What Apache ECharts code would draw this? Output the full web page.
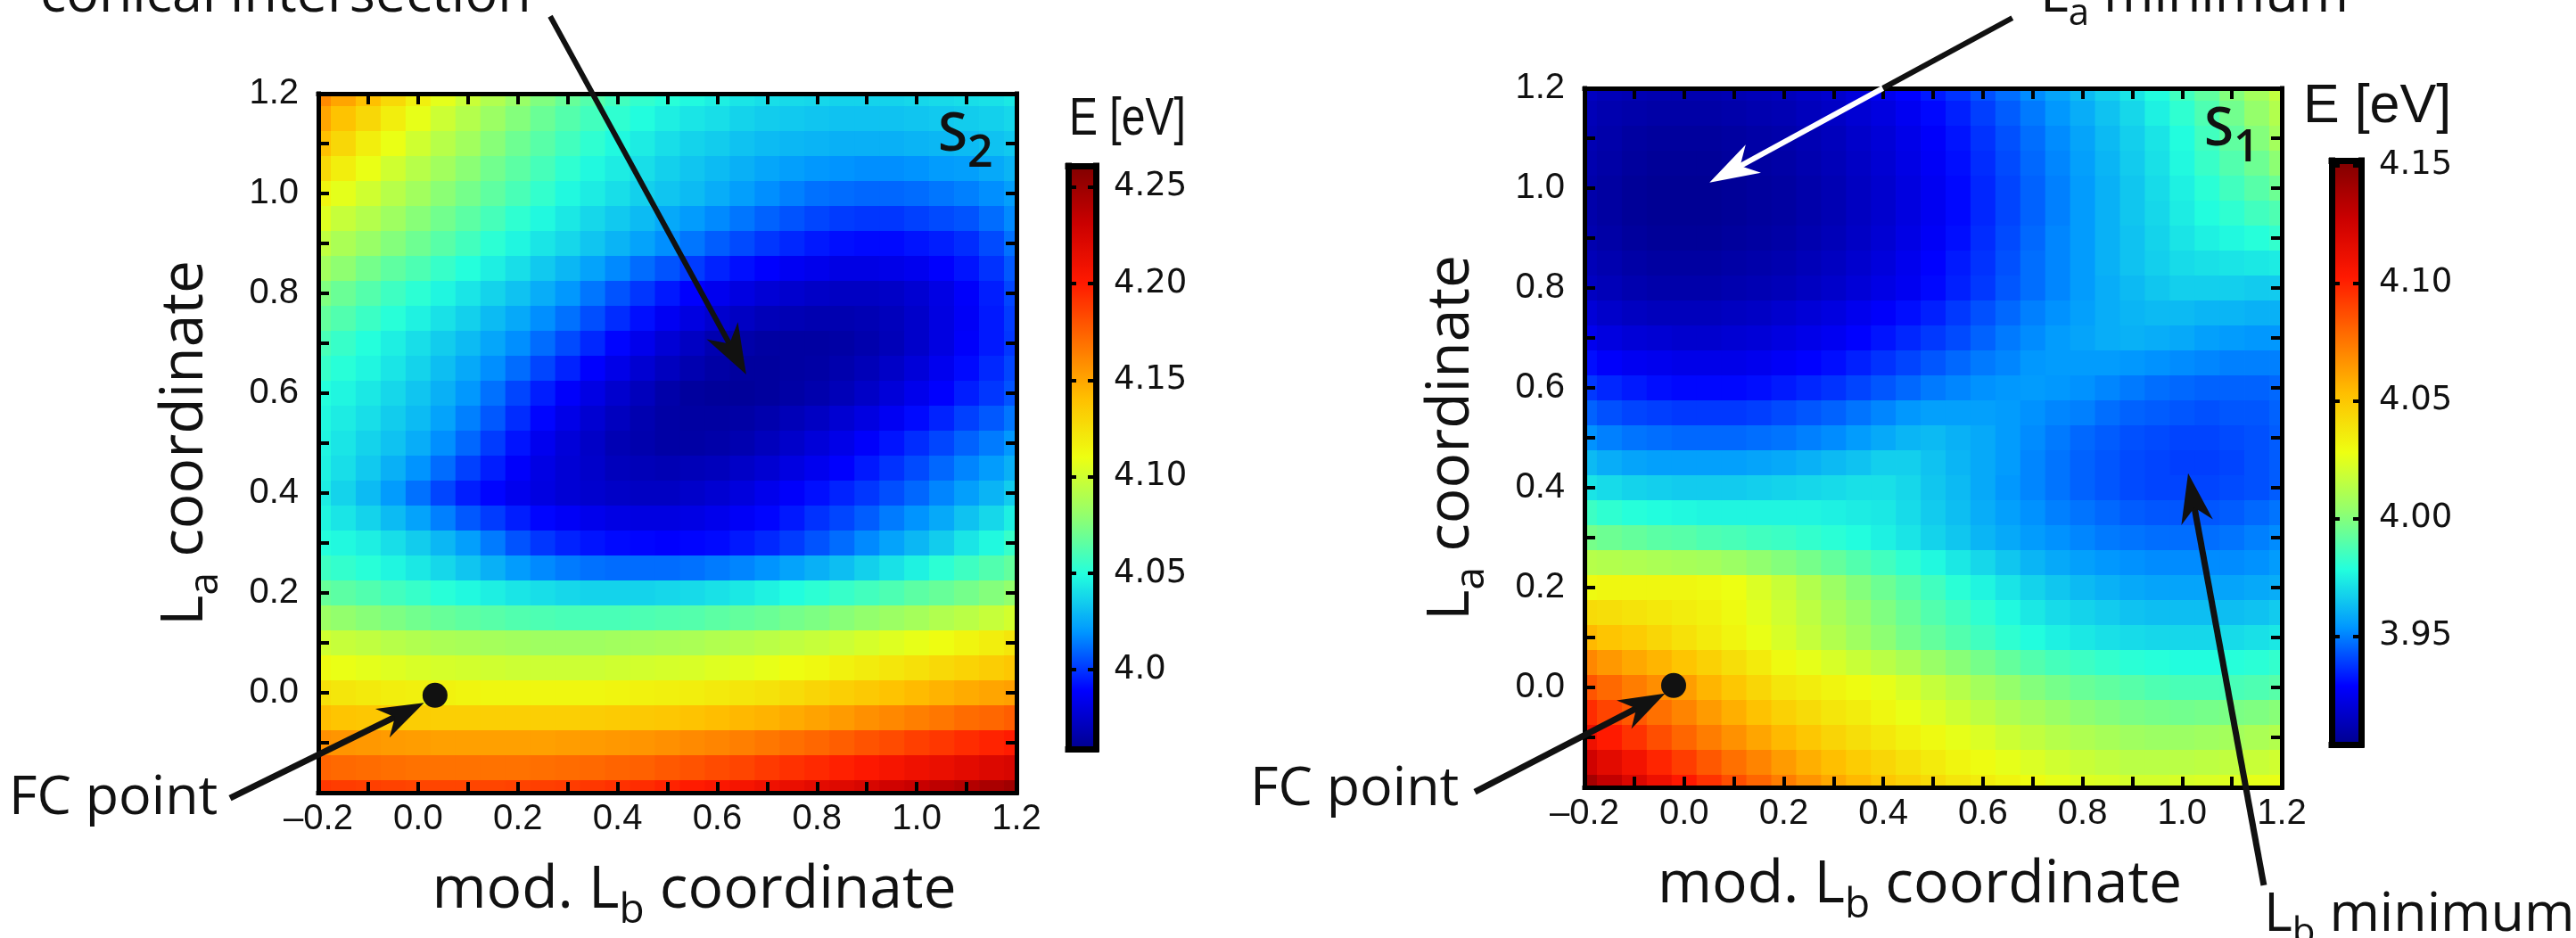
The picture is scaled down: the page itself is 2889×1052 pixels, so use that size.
<!DOCTYPE html>
<html><head><meta charset="utf-8">
<script src="https://cdn.jsdelivr.net/npm/echarts@6/dist/echarts.min.js"></script>
<style>html,body{margin:0;padding:0;background:#fff}#c{width:2889px;height:1052px}</style>
</head><body><div id="c"></div>
<script>
// ---------- data ----------
const xs = [-0.2,-0.15,-0.1,-0.05,0,0.05,0.1,0.15,0.2,0.25,0.3,0.35,0.4,0.45,0.5,0.55,0.6,0.65,0.7,0.75,0.8,0.85,0.9,0.95,1.0,1.05,1.1,1.15,1.2];
const ys = [1.2,1.15,1.1,1.05,1.0,0.95,0.9,0.85,0.8,0.75,0.7,0.65,0.6,0.55,0.5,0.45,0.4,0.35,0.3,0.25,0.2,0.15,0.1,0.05,0,-0.05,-0.1,-0.15,-0.2];

// S2 energies [eV], rows follow ys (top to bottom), columns follow xs
const s2Energy = [
[4.160,4.150,4.140,4.128,4.117,4.107,4.098,4.090,4.082,4.075,4.068,4.063,4.058,4.054,4.051,4.048,4.045,4.042,4.040,4.039,4.038,4.037,4.037,4.037,4.038,4.039,4.040,4.041,4.043],
[4.150,4.139,4.129,4.118,4.108,4.099,4.091,4.083,4.076,4.069,4.063,4.058,4.053,4.049,4.045,4.042,4.040,4.037,4.035,4.034,4.033,4.032,4.032,4.032,4.033,4.034,4.035,4.036,4.038],
[4.140,4.129,4.118,4.109,4.100,4.092,4.085,4.077,4.070,4.064,4.058,4.053,4.048,4.044,4.040,4.037,4.035,4.032,4.030,4.029,4.028,4.027,4.027,4.027,4.028,4.029,4.030,4.032,4.034],
[4.128,4.118,4.109,4.100,4.092,4.085,4.078,4.071,4.065,4.059,4.053,4.048,4.044,4.040,4.036,4.033,4.030,4.027,4.024,4.022,4.020,4.019,4.018,4.018,4.019,4.021,4.022,4.025,4.028],
[4.115,4.107,4.100,4.092,4.085,4.078,4.072,4.066,4.060,4.054,4.048,4.044,4.040,4.036,4.033,4.030,4.026,4.022,4.018,4.015,4.012,4.011,4.010,4.010,4.011,4.013,4.015,4.018,4.022],
[4.105,4.097,4.091,4.084,4.077,4.071,4.065,4.059,4.053,4.048,4.043,4.038,4.034,4.030,4.025,4.021,4.017,4.013,4.009,4.006,4.003,4.001,4.000,4.000,4.002,4.004,4.006,4.011,4.017],
[4.095,4.088,4.082,4.076,4.070,4.064,4.058,4.052,4.047,4.042,4.038,4.033,4.028,4.023,4.018,4.013,4.008,4.004,4.000,3.997,3.994,3.992,3.991,3.991,3.993,3.995,3.998,4.004,4.012],
[4.085,4.079,4.072,4.066,4.061,4.055,4.050,4.045,4.040,4.034,4.029,4.023,4.017,4.011,4.006,4.001,3.996,3.992,3.989,3.986,3.984,3.982,3.982,3.983,3.985,3.989,3.993,3.999,4.007],
[4.075,4.069,4.063,4.057,4.052,4.047,4.042,4.037,4.032,4.026,4.020,4.013,4.006,4.000,3.994,3.989,3.985,3.981,3.978,3.976,3.974,3.973,3.973,3.974,3.977,3.982,3.988,3.995,4.003],
[4.067,4.062,4.056,4.051,4.046,4.041,4.036,4.030,4.025,4.018,4.012,4.005,3.998,3.992,3.986,3.981,3.976,3.973,3.970,3.969,3.968,3.968,3.969,3.971,3.975,3.981,3.987,3.994,4.001],
[4.060,4.055,4.050,4.045,4.040,4.035,4.030,4.024,4.018,4.011,4.004,3.997,3.990,3.984,3.978,3.973,3.968,3.966,3.964,3.964,3.964,3.965,3.967,3.970,3.975,3.981,3.988,3.994,4.000],
[4.055,4.051,4.047,4.042,4.037,4.031,4.025,4.018,4.011,4.003,3.996,3.989,3.983,3.977,3.972,3.968,3.965,3.963,3.963,3.964,3.965,3.967,3.970,3.974,3.979,3.985,3.991,3.997,4.003],
[4.050,4.047,4.043,4.038,4.033,4.027,4.020,4.012,4.003,3.995,3.988,3.982,3.976,3.971,3.966,3.963,3.962,3.962,3.963,3.965,3.967,3.970,3.974,3.979,3.984,3.989,3.995,4.000,4.006],
[4.048,4.044,4.040,4.035,4.030,4.023,4.015,4.007,3.998,3.990,3.983,3.977,3.972,3.968,3.965,3.964,3.964,3.965,3.967,3.970,3.973,3.977,3.981,3.986,3.991,3.996,4.002,4.007,4.013],
[4.047,4.042,4.037,4.032,4.026,4.018,4.010,4.001,3.993,3.985,3.979,3.974,3.969,3.967,3.965,3.965,3.966,3.968,3.971,3.975,3.979,3.983,3.988,3.993,3.998,4.003,4.009,4.014,4.020],
[4.046,4.040,4.034,4.027,4.019,4.011,4.002,3.995,3.988,3.982,3.978,3.975,3.971,3.970,3.969,3.970,3.971,3.974,3.977,3.981,3.985,3.989,3.994,3.999,4.004,4.010,4.016,4.021,4.027],
[4.044,4.037,4.030,4.021,4.012,4.003,3.995,3.990,3.985,3.981,3.978,3.976,3.974,3.973,3.973,3.975,3.977,3.980,3.984,3.988,3.992,3.996,4.000,4.005,4.010,4.016,4.022,4.028,4.035],
[4.047,4.042,4.037,4.030,4.023,4.015,4.007,4.001,3.995,3.990,3.987,3.984,3.982,3.981,3.981,3.982,3.984,3.987,3.990,3.994,3.999,4.003,4.008,4.014,4.019,4.025,4.032,4.038,4.045],
[4.050,4.048,4.045,4.040,4.035,4.029,4.022,4.014,4.006,4.000,3.996,3.993,3.991,3.990,3.989,3.990,3.991,3.994,3.997,4.001,4.006,4.011,4.017,4.023,4.029,4.035,4.042,4.048,4.055],
[4.057,4.054,4.051,4.047,4.043,4.038,4.033,4.027,4.021,4.017,4.014,4.012,4.011,4.011,4.011,4.012,4.014,4.016,4.019,4.023,4.027,4.031,4.036,4.041,4.046,4.052,4.057,4.062,4.067],
[4.068,4.065,4.062,4.058,4.055,4.051,4.048,4.045,4.042,4.040,4.038,4.037,4.037,4.037,4.038,4.039,4.041,4.043,4.046,4.049,4.052,4.055,4.058,4.061,4.065,4.068,4.072,4.076,4.080],
[4.083,4.080,4.077,4.074,4.071,4.068,4.066,4.064,4.062,4.061,4.060,4.060,4.060,4.061,4.062,4.063,4.065,4.067,4.069,4.072,4.074,4.077,4.080,4.083,4.086,4.090,4.093,4.097,4.101],
[4.100,4.097,4.095,4.092,4.090,4.088,4.087,4.086,4.085,4.084,4.084,4.084,4.085,4.086,4.087,4.088,4.090,4.091,4.093,4.095,4.097,4.099,4.102,4.105,4.108,4.111,4.115,4.118,4.122],
[4.112,4.109,4.107,4.105,4.103,4.102,4.101,4.100,4.099,4.099,4.099,4.099,4.100,4.101,4.102,4.103,4.105,4.106,4.108,4.111,4.113,4.116,4.119,4.122,4.125,4.128,4.131,4.134,4.137],
[4.125,4.122,4.120,4.118,4.117,4.116,4.115,4.114,4.114,4.114,4.114,4.114,4.115,4.116,4.117,4.118,4.120,4.122,4.124,4.127,4.130,4.133,4.136,4.139,4.142,4.145,4.148,4.150,4.152],
[4.141,4.138,4.137,4.135,4.134,4.133,4.133,4.133,4.133,4.133,4.133,4.134,4.135,4.136,4.137,4.139,4.141,4.143,4.145,4.148,4.151,4.154,4.158,4.161,4.164,4.167,4.171,4.173,4.176],
[4.158,4.156,4.155,4.154,4.153,4.152,4.152,4.152,4.152,4.152,4.153,4.154,4.155,4.156,4.158,4.160,4.162,4.164,4.167,4.170,4.173,4.176,4.180,4.183,4.187,4.190,4.194,4.197,4.200],
[4.174,4.172,4.171,4.170,4.169,4.169,4.169,4.169,4.169,4.170,4.171,4.172,4.174,4.175,4.178,4.180,4.183,4.185,4.189,4.192,4.195,4.198,4.202,4.206,4.210,4.213,4.217,4.221,4.224],
[4.190,4.188,4.187,4.186,4.185,4.185,4.185,4.185,4.186,4.187,4.188,4.190,4.192,4.194,4.197,4.200,4.203,4.206,4.210,4.213,4.217,4.220,4.224,4.228,4.232,4.236,4.240,4.244,4.248]
];

// S1 energies [eV]
const s1Energy = [
[3.915,3.913,3.912,3.911,3.911,3.911,3.912,3.913,3.914,3.916,3.918,3.921,3.925,3.929,3.933,3.937,3.942,3.947,3.952,3.957,3.962,3.967,3.972,3.978,3.985,3.992,4.000,4.008,4.016],
[3.913,3.911,3.910,3.909,3.909,3.909,3.910,3.911,3.912,3.914,3.916,3.919,3.922,3.926,3.930,3.934,3.939,3.944,3.949,3.954,3.959,3.964,3.969,3.975,3.981,3.988,3.996,4.004,4.012],
[3.912,3.910,3.908,3.907,3.907,3.907,3.908,3.909,3.910,3.912,3.914,3.917,3.920,3.924,3.928,3.932,3.937,3.942,3.947,3.952,3.957,3.962,3.967,3.972,3.978,3.985,3.992,4.000,4.008],
[3.911,3.909,3.907,3.906,3.906,3.906,3.907,3.908,3.909,3.911,3.913,3.916,3.919,3.923,3.927,3.931,3.936,3.941,3.946,3.951,3.956,3.961,3.966,3.971,3.977,3.983,3.989,3.995,4.002],
[3.910,3.908,3.906,3.905,3.905,3.905,3.906,3.907,3.908,3.910,3.912,3.915,3.918,3.922,3.926,3.930,3.935,3.940,3.945,3.950,3.955,3.960,3.965,3.970,3.975,3.980,3.985,3.990,3.995],
[3.910,3.908,3.906,3.905,3.905,3.905,3.906,3.907,3.908,3.910,3.912,3.915,3.918,3.922,3.926,3.930,3.935,3.940,3.945,3.950,3.955,3.960,3.965,3.969,3.974,3.978,3.981,3.985,3.988],
[3.911,3.909,3.907,3.906,3.906,3.906,3.907,3.908,3.909,3.911,3.913,3.916,3.919,3.923,3.927,3.931,3.936,3.941,3.946,3.951,3.955,3.960,3.964,3.968,3.972,3.975,3.977,3.979,3.982],
[3.913,3.911,3.909,3.908,3.908,3.908,3.909,3.910,3.911,3.913,3.915,3.918,3.921,3.925,3.929,3.933,3.937,3.942,3.947,3.951,3.955,3.960,3.964,3.967,3.970,3.971,3.972,3.973,3.974],
[3.915,3.913,3.911,3.910,3.910,3.910,3.911,3.912,3.913,3.915,3.917,3.920,3.923,3.926,3.930,3.934,3.938,3.943,3.947,3.951,3.955,3.959,3.962,3.965,3.967,3.967,3.967,3.966,3.966],
[3.920,3.917,3.915,3.914,3.914,3.914,3.915,3.916,3.918,3.920,3.922,3.925,3.928,3.931,3.934,3.938,3.942,3.946,3.950,3.953,3.956,3.959,3.961,3.962,3.962,3.961,3.961,3.960,3.960],
[3.925,3.922,3.920,3.919,3.918,3.918,3.919,3.920,3.922,3.924,3.926,3.929,3.932,3.935,3.938,3.941,3.945,3.949,3.952,3.955,3.957,3.959,3.960,3.959,3.958,3.956,3.955,3.954,3.954],
[3.931,3.928,3.926,3.925,3.924,3.924,3.924,3.925,3.927,3.929,3.931,3.934,3.937,3.940,3.943,3.946,3.949,3.951,3.954,3.955,3.955,3.955,3.954,3.953,3.952,3.951,3.950,3.950,3.950],
[3.938,3.935,3.933,3.931,3.930,3.930,3.930,3.931,3.933,3.935,3.937,3.940,3.943,3.946,3.949,3.951,3.953,3.954,3.955,3.954,3.953,3.951,3.949,3.947,3.946,3.945,3.945,3.945,3.946],
[3.945,3.942,3.940,3.939,3.938,3.938,3.938,3.939,3.941,3.943,3.945,3.948,3.951,3.954,3.956,3.956,3.956,3.955,3.953,3.951,3.950,3.947,3.945,3.944,3.943,3.942,3.943,3.943,3.945],
[3.953,3.950,3.948,3.947,3.946,3.946,3.946,3.947,3.948,3.950,3.952,3.955,3.958,3.961,3.962,3.960,3.958,3.955,3.952,3.949,3.946,3.944,3.942,3.941,3.940,3.940,3.941,3.942,3.944],
[3.962,3.959,3.957,3.956,3.956,3.956,3.956,3.957,3.958,3.960,3.962,3.964,3.967,3.967,3.964,3.961,3.958,3.955,3.951,3.948,3.945,3.943,3.941,3.940,3.939,3.939,3.940,3.942,3.944],
[3.972,3.970,3.968,3.967,3.966,3.966,3.966,3.967,3.968,3.969,3.970,3.971,3.971,3.969,3.965,3.962,3.958,3.954,3.951,3.948,3.945,3.943,3.941,3.940,3.940,3.940,3.941,3.942,3.944],
[3.984,3.981,3.979,3.978,3.977,3.976,3.976,3.976,3.976,3.976,3.975,3.974,3.973,3.970,3.966,3.963,3.959,3.956,3.953,3.950,3.948,3.946,3.944,3.943,3.943,3.943,3.944,3.946,3.948],
[3.997,3.995,3.993,3.991,3.990,3.988,3.987,3.985,3.984,3.982,3.980,3.978,3.975,3.972,3.968,3.965,3.961,3.958,3.955,3.953,3.951,3.949,3.948,3.947,3.947,3.947,3.948,3.950,3.952],
[4.013,4.012,4.011,4.010,4.009,4.008,4.006,4.003,4.000,3.997,3.993,3.989,3.985,3.981,3.977,3.973,3.969,3.965,3.961,3.958,3.956,3.954,3.953,3.952,3.952,3.952,3.952,3.953,3.955],
[4.030,4.031,4.031,4.031,4.031,4.030,4.028,4.023,4.018,4.012,4.006,4.000,3.995,3.990,3.985,3.980,3.976,3.972,3.968,3.965,3.962,3.960,3.958,3.957,3.957,3.957,3.957,3.958,3.959],
[4.042,4.041,4.039,4.037,4.035,4.033,4.030,4.025,4.020,4.015,4.009,4.004,3.999,3.994,3.989,3.985,3.981,3.977,3.973,3.970,3.968,3.966,3.964,3.963,3.963,3.963,3.963,3.964,3.966],
[4.055,4.051,4.048,4.044,4.040,4.036,4.032,4.027,4.022,4.017,4.012,4.007,4.002,3.997,3.993,3.989,3.985,3.981,3.978,3.975,3.973,3.971,3.970,3.969,3.969,3.969,3.970,3.971,3.973],
[4.070,4.065,4.060,4.056,4.051,4.046,4.041,4.036,4.030,4.026,4.022,4.018,4.014,4.010,4.005,4.001,3.997,3.993,3.989,3.986,3.984,3.982,3.980,3.979,3.978,3.978,3.979,3.980,3.982],
[4.085,4.079,4.073,4.068,4.063,4.056,4.050,4.044,4.038,4.035,4.032,4.029,4.026,4.022,4.017,4.013,4.008,4.004,4.000,3.997,3.994,3.992,3.990,3.988,3.987,3.987,3.987,3.988,3.990],
[4.097,4.090,4.084,4.077,4.071,4.064,4.058,4.052,4.046,4.042,4.038,4.035,4.031,4.027,4.023,4.019,4.015,4.011,4.008,4.005,4.002,4.000,3.998,3.997,3.996,3.997,3.998,3.999,4.001],
[4.110,4.102,4.095,4.087,4.080,4.073,4.067,4.061,4.055,4.050,4.045,4.041,4.037,4.033,4.030,4.026,4.023,4.019,4.016,4.013,4.011,4.009,4.007,4.006,4.006,4.007,4.008,4.010,4.012],
[4.125,4.116,4.108,4.099,4.092,4.084,4.077,4.071,4.064,4.058,4.053,4.048,4.044,4.040,4.036,4.032,4.029,4.026,4.023,4.020,4.018,4.016,4.014,4.014,4.014,4.015,4.016,4.018,4.020],
[4.140,4.130,4.120,4.111,4.103,4.095,4.087,4.080,4.073,4.066,4.060,4.055,4.050,4.046,4.042,4.038,4.035,4.032,4.029,4.026,4.024,4.023,4.021,4.021,4.022,4.023,4.024,4.026,4.027]
];

const s2Range = [3.959, 4.261];
const s1Range = [3.904, 4.152];
const s2CbTicks = [4.0, 4.05, 4.10, 4.15, 4.20, 4.25];
const s2CbLabels = ['4.0', '4.05', '4.10', '4.15', '4.20', '4.25'];
const s1CbTicks = [3.95, 4.0, 4.05, 4.10, 4.15];
const s1CbLabels = ['3.95', '4.00', '4.05', '4.10', '4.15'];
const fcPointS2 = [[0.034, -0.005]];
const fcPointS1 = [[-0.021, 0.004]];

// ---------- styling ----------
const jet = ['#00008f','#0000ff','#0096ff','#23ffdd','#92ff6e','#edff12','#ffc000','#ff6e00','#ff1900','#cb0000','#800000'];
const INK = '#111';
const ANN = 'Open Sans';
const TICKF = 'Liberation Sans';

function cells(vals) {
  const out = [];
  ys.forEach((y, r) => xs.forEach((x, c) => out.push([x, y, vals[r][c]])));
  return out;
}
const dx = Math.abs(xs[1] - xs[0]), dy = Math.abs(ys[1] - ys[0]);
function renderCell(params, api) {
  const x = api.value(0), y = api.value(1);
  const p0 = api.coord([x - dx / 2, y + dy / 2]);
  const p1 = api.coord([x + dx / 2, y - dy / 2]);
  return {
    type: 'rect',
    shape: { x: p0[0], y: p0[1], width: p1[0] - p0[0] + 0.8, height: p1[1] - p0[1] + 0.8 },
    style: { fill: api.visual('color') }
  };
}
const fmtTick = v => (v < -1e-9 ? '\u2013' : '') + Math.abs(v).toFixed(1);
const tickStyle = { inside: true, length: 12, lineStyle: { color: '#000', width: 4 } };
const minorStyle = { show: true, splitNumber: 2, length: 12, lineStyle: { color: '#000', width: 4 } };
const frameLine = { show: true, onZero: false, lineStyle: { color: '#000', width: 5, cap: 'square' } };
const subRich = { s: { fontFamily: ANN, fontSize: 46, lineHeight: 20, verticalAlign: 'bottom', color: INK } };

function mainX(grid, pos, withLabels, pad) {
  return {
    gridIndex: grid, type: 'value', min: -0.2, max: 1.2, interval: 0.2, position: pos, z: 10,
    axisLine: frameLine, axisTick: tickStyle, minorTick: minorStyle, splitLine: { show: false }, minorSplitLine: { show: false },
    axisLabel: { show: withLabels, margin: 10, fontFamily: TICKF, fontSize: 40, color: INK, formatter: fmtTick },
    name: withLabels ? 'mod. L{s|b} coordinate' : '', nameLocation: 'middle', nameGap: 64, nameMoveOverlap: false,
    nameTextStyle: { fontFamily: ANN, fontSize: 66, lineHeight: 92, color: INK, rich: subRich, padding: pad || 0 }
  };
}
function mainY(grid, pos, withLabels) {
  return {
    gridIndex: grid, type: 'value', min: -0.2, max: 1.2, interval: 0.2, position: pos, z: 10,
    axisLine: frameLine, axisTick: tickStyle, minorTick: minorStyle, splitLine: { show: false }, minorSplitLine: { show: false },
    axisLabel: { show: withLabels, margin: 22, fontFamily: TICKF, fontSize: 40, color: INK, formatter: fmtTick, showMinLabel: false },
    name: withLabels ? 'L{s|a} coordinate' : '', nameLocation: 'middle', nameRotate: 90, nameGap: 103, nameMoveOverlap: false,
    nameTextStyle: { fontFamily: ANN, fontSize: 66, lineHeight: 92, color: INK, rich: subRich }
  };
}
function cbX(grid, pos) {
  return { gridIndex: grid, type: 'value', min: 0, max: 1, position: pos, z: 10,
    axisLine: { show: true, onZero: false, lineStyle: { color: '#000', width: 7, cap: 'square' } },
    axisTick: { show: false }, axisLabel: { show: false }, splitLine: { show: false } };
}
function cbY(grid, pos, range, ticks, labels, withLabels) {
  return { gridIndex: grid, type: 'value', min: range[0], max: range[1], position: pos, z: 10,
    axisLine: { show: true, onZero: false, lineStyle: { color: '#000', width: 7, cap: 'square' } },
    axisTick: { show: true, inside: true, length: 9, lineStyle: { color: '#000', width: 4 }, customValues: ticks },
    axisLabel: { show: withLabels, customValues: ticks, margin: 20, fontFamily: 'DejaVu Sans', fontSize: 37, color: INK,
      formatter: v => { const i = ticks.findIndex(t => Math.abs(t - v) < 1e-6); return i >= 0 ? labels[i] : ''; } },
    splitLine: { show: false } };
}

const chart = echarts.init(document.getElementById('c'), null, { renderer: 'canvas', width: 2889, height: 1052 });

chart.setOption({
  animation: false,
  backgroundColor: '#fff',
  grid: [
    { left: 357, top: 105, width: 783, height: 784, outerBoundsMode: 'none' },
    { left: 1777, top: 99, width: 782, height: 784, outerBoundsMode: 'none' },
    { left: 1198, top: 186, width: 31, height: 654, outerBoundsMode: 'none' },
    { left: 2615, top: 180, width: 33, height: 655, outerBoundsMode: 'none' }
  ],
  xAxis: [mainX(0, 'bottom', true, [0, 0, 0, 60]), mainX(0, 'top', false), mainX(1, 'bottom', true, [0, 30, 0, 0]), mainX(1, 'top', false),
          cbX(2, 'bottom'), cbX(2, 'top'), cbX(3, 'bottom'), cbX(3, 'top')],
  yAxis: [mainY(0, 'left', true), mainY(0, 'right', false), mainY(1, 'left', true), mainY(1, 'right', false),
          cbY(2, 'left', s2Range, s2CbTicks, s2CbLabels, false), cbY(2, 'right', s2Range, s2CbTicks, s2CbLabels, true),
          cbY(3, 'left', s1Range, s1CbTicks, s1CbLabels, false), cbY(3, 'right', s1Range, s1CbTicks, s1CbLabels, true)],
  visualMap: [
    { type: 'continuous', seriesIndex: 0, dimension: 2, min: s2Range[0], max: s2Range[1], inRange: { color: jet },
      left: 1198, top: 186, itemWidth: 31, itemHeight: 654, calculable: false, hoverLink: false, padding: 0, orient: 'vertical' },
    { type: 'continuous', seriesIndex: 1, dimension: 2, min: s1Range[0], max: s1Range[1], inRange: { color: jet },
      left: 2615, top: 180, itemWidth: 33, itemHeight: 655, calculable: false, hoverLink: false, padding: 0, orient: 'vertical' }
  ],
  series: [
    { type: 'custom', name: 'S2', xAxisIndex: 0, yAxisIndex: 0, data: cells(s2Energy), renderItem: renderCell, clip: true, silent: true, encode: { x: 0, y: 1 } },
    { type: 'custom', name: 'S1', xAxisIndex: 2, yAxisIndex: 2, data: cells(s1Energy), renderItem: renderCell, clip: true, silent: true, encode: { x: 0, y: 1 } },
    { type: 'scatter', xAxisIndex: 0, yAxisIndex: 0, data: fcPointS2, symbolSize: 28, itemStyle: { color: INK, opacity: 1 }, z: 20, silent: true },
    { type: 'scatter', xAxisIndex: 2, yAxisIndex: 2, data: fcPointS1, symbolSize: 28, itemStyle: { color: INK, opacity: 1 }, z: 20, silent: true }
  ]
});

// ---------- annotations (arrows defined in data coordinates of each panel) ----------
const arrows = [
  { axes: [0, 0], from: [0.265, 1.355], to: [0.658, 0.6375], color: INK, width: 6, head: [56, 40] },
  { axes: [0, 0], from: [-0.377, -0.211], to: [0.012, -0.02], color: INK, width: 7, head: [52, 36] },
  { axes: [2, 2], from: [-0.42, -0.209], to: [-0.038, -0.012], color: INK, width: 7, head: [52, 36] },
  { axes: [2, 2], from: [1.164, -0.396], to: [1.012, 0.429], color: INK, width: 7, head: [56, 36] },
  { axes: [2, 2], from: [0.659, 1.341], to: [0.399, 1.2], color: INK, width: 6, head: null },
  { axes: [2, 2], from: [0.399, 1.2], to: [0.051, 1.011], color: '#fff', width: 6, head: [56, 36] }
];
const gfx = [];
arrows.forEach(a => {
  const P = v => chart.convertToPixel({ xAxisIndex: a.axes[0], yAxisIndex: a.axes[1] }, v);
  const s = P(a.from), t = P(a.to);
  const ddx = t[0] - s[0], ddy = t[1] - s[1], len = Math.hypot(ddx, ddy);
  const ux = ddx / len, uy = ddy / len, nx = -uy, ny = ux;
  let end = t;
  if (a.head) {
    const L = a.head[0], W = a.head[1] / 2;
    end = [t[0] - ux * L * 0.6, t[1] - uy * L * 0.6];
    gfx.push({ type: 'polygon', z: 100, silent: true, shape: { points: [
      t, [t[0] - ux * L + nx * W, t[1] - uy * L + ny * W], [t[0] - ux * L * 0.7, t[1] - uy * L * 0.7], [t[0] - ux * L - nx * W, t[1] - uy * L - ny * W]
    ] }, style: { fill: a.color } });
  }
  gfx.push({ type: 'line', z: 99, silent: true, shape: { x1: s[0], y1: s[1], x2: end[0], y2: end[1] }, style: { stroke: a.color, lineWidth: a.width } });
});

const annRich = { s: { fontFamily: ANN, fontSize: 42, lineHeight: 20, verticalAlign: 'bottom', fill: INK } };
function txt(x, y, text, extra) {
  return { type: 'text', x: x, y: y, z: 101, silent: true,
    style: Object.assign({ text: text, fontFamily: ANN, fontSize: 61, lineHeight: 83, fill: INK, verticalAlign: 'middle', align: 'left', rich: annRich }, extra || {}) };
}
gfx.push(txt(45, -4, 'conical intersection'));
gfx.push(txt(10, 896, 'FC point'));
gfx.push(txt(1402, 886, 'FC point'));
gfx.push(txt(2288, -4, 'L{s|a} minimum'));
gfx.push(txt(2539, 1027, 'L{s|b} minimum'));
const eLeft = txt(1199, 134, 'E [eV]', { fontFamily: 'Liberation Sans', fontSize: 60, lineHeight: 60 });
eLeft.scaleX = 0.8;
gfx.push(eLeft);
gfx.push(txt(2583, 120, 'E [eV]', { fontFamily: 'Liberation Sans', fontSize: 61, lineHeight: 61 }));
const sRich = { s: { fontFamily: ANN, fontSize: 50, fontWeight: 600, lineHeight: 18, verticalAlign: 'bottom', fill: INK } };
gfx.push(txt(1052, 152, 'S{s|2}', { fontSize: 60, lineHeight: 92, fontWeight: 600, rich: sRich }));
gfx.push(txt(2472, 146, 'S{s|1}', { fontSize: 60, lineHeight: 92, fontWeight: 600, rich: sRich }));

chart.setOption({ graphic: gfx });
</script>
</body></html>
